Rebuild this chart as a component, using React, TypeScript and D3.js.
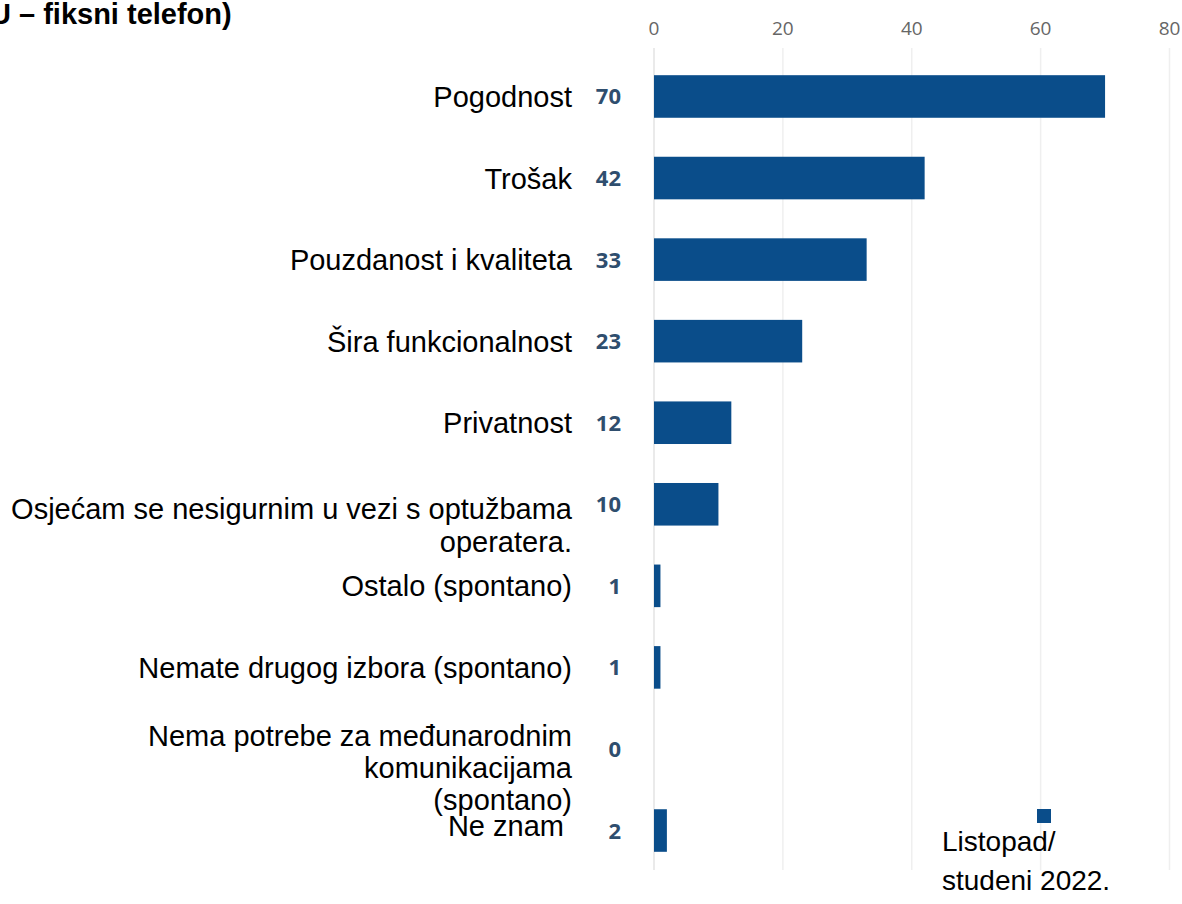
import React from "react";
import * as d3 from "d3";

const categories = [
  "Pogodnost",
  "Trošak",
  "Pouzdanost i kvaliteta",
  "Šira funkcionalnost",
  "Privatnost",
  "Osjećam se nesigurnim u vezi s optužbama operatera.",
  "Ostalo (spontano)",
  "Nemate drugog izbora (spontano)",
  "Nema potrebe za međunarodnim komunikacijama (spontano)",
  "Ne znam",
];
const labelLines: string[][] = [
  ["Pogodnost"],
  ["Trošak"],
  ["Pouzdanost i kvaliteta"],
  ["Šira funkcionalnost"],
  ["Privatnost"],
  ["Osjećam se nesigurnim u vezi s optužbama", "operatera."],
  ["Ostalo (spontano)"],
  ["Nemate drugog izbora (spontano)"],
  ["Nema potrebe za međunarodnim", "komunikacijama", "(spontano)"],
  ["Ne znam "],
];
const values = [70, 42, 33, 23, 12, 10, 1, 1, 0, 2];
const xTicks = [0, 20, 40, 60, 80];
const legendLines = ["Listopad/", "studeni 2022."];
const titleText = "U – fiksni telefon)";

const W = 1182;
const H = 904;
const BAR = "#0a4d8a";

// per-label baseline offsets relative to band centre (first line) and line height
const lineLayout: Record<number, { first: number; step: number }> = {
  5: { first: 15, step: 33 },
  8: { first: -3, step: 32 },
  9: { first: 5, step: 32 },
};

export default function App() {
  const x = d3.scaleLinear().domain([0, 80]).range([654, 1169.5]);
  const y = d3
    .scaleBand<string>()
    .domain(categories)
    .range([55.7, 871.3])
    .paddingInner(0.478)
    .paddingOuter(0.239);
  const bw = y.bandwidth();
  const labelX = 572;
  const valueX = 621;

  return (
    <svg
      width={W}
      height={H}
      viewBox={`0 0 ${W} ${H}`}
      style={{ position: "absolute", left: 0, top: 0, background: "#fff" }}
    >
      <rect x={0} y={0} width={W} height={H} fill="#fff" />
      {/* gridlines */}
      {xTicks.map((t) => (
        <line
          key={"g" + t}
          x1={x(t)}
          x2={x(t)}
          y1={48}
          y2={870}
          stroke={t === 0 ? "#e3e3e3" : "#efefef"}
          strokeWidth={1.5}
        />
      ))}
      {/* tick labels */}
      {xTicks.map((t) => (
        <text
          key={"t" + t}
          x={x(t)}
          y={35}
          textAnchor="middle"
          fontFamily="'Open Sans', sans-serif"
          fontSize={19}
          fill="#666"
        >
          {t}
        </text>
      ))}
      {/* title */}
      <text
        x={-10}
        y={24}
        fontFamily="'Liberation Sans', Arial, sans-serif"
        fontWeight="bold"
        fontSize={29}
        fill="#000"
      >
        {titleText}
      </text>
      {/* bars */}
      {categories.map((c, i) => (
        <rect
          key={"b" + i}
          x={x(0)}
          y={y(c)!}
          width={x(values[i]) - x(0)}
          height={bw}
          fill={BAR}
        />
      ))}
      {/* value labels */}
      {categories.map((c, i) => (
        <text
          key={"v" + i}
          x={valueX}
          y={y(c)! + bw / 2 + 8}
          textAnchor="end"
          fontFamily="'Open Sans', sans-serif"
          fontWeight="bold"
          fontSize={22}
          fill="#2f4e6e"
        >
          {values[i]}
        </text>
      ))}
      {/* category labels */}
      {categories.map((c, i) => {
        const cy = y(c)! + bw / 2;
        const lay = lineLayout[i] || { first: 10.5, step: 33 };
        return (
          <text
            key={"c" + i}
            textAnchor="end"
            fontFamily="'Liberation Sans', Arial, sans-serif"
            fontSize={29}
            fill="#000"
            style={{ whiteSpace: "pre" }}
          >
            {labelLines[i].map((ln, j) => (
              <tspan key={j} x={labelX} y={cy + lay.first + j * lay.step}>
                {ln}
              </tspan>
            ))}
          </text>
        );
      })}
      {/* legend */}
      <rect x={1037} y={809} width={14} height={14} fill={BAR} />
      <text
        fontFamily="'Liberation Sans', Arial, sans-serif"
        fontSize={28}
        fill="#000"
      >
        {legendLines.map((ln, j) => (
          <tspan key={j} x={942} y={851 + j * 39}>
            {ln}
          </tspan>
        ))}
      </text>
    </svg>
  );
}
